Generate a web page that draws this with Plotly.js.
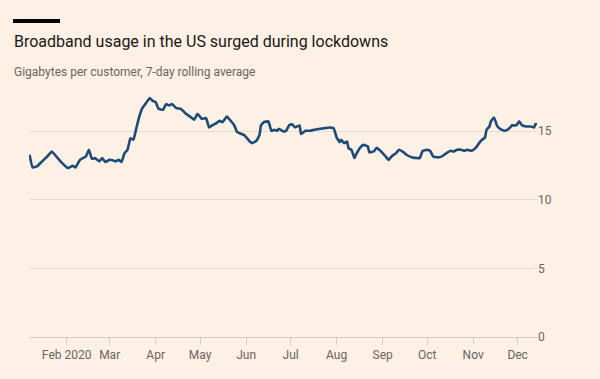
<!DOCTYPE html>
<html>
<head>
<meta charset="utf-8">
<script src="https://cdn.plot.ly/plotly-3.0.1.min.js"></script>
<style>
html,body{margin:0;padding:0;background:#fdf0e5;}
#chart{width:600px;height:379px;}
</style>
</head>
<body>
<div id="chart"></div>
<script>
const dates = [
"2020-01-07","2020-01-09","2020-01-12","2020-01-15","2020-01-19","2020-01-22","2020-01-25","2020-01-29",
"2020-02-02","2020-02-05","2020-02-07","2020-02-10","2020-02-14","2020-02-16","2020-02-18","2020-02-20",
"2020-02-23","2020-02-25","2020-02-27","2020-03-01","2020-03-03","2020-03-05","2020-03-07","2020-03-09",
"2020-03-11","2020-03-13","2020-03-15","2020-03-17","2020-03-19","2020-03-21","2020-03-23","2020-03-25",
"2020-03-28","2020-03-30","2020-04-01","2020-04-03","2020-04-06","2020-04-08","2020-04-10","2020-04-12",
"2020-04-15","2020-04-18","2020-04-21","2020-04-25","2020-04-27","2020-04-29","2020-05-01","2020-05-02",
"2020-05-05","2020-05-07","2020-05-09","2020-05-12","2020-05-14","2020-05-16","2020-05-19","2020-05-21",
"2020-05-24","2020-05-26","2020-05-29","2020-05-31","2020-06-03","2020-06-05","2020-06-08","2020-06-10",
"2020-06-11","2020-06-13","2020-06-16","2020-06-18","2020-06-20","2020-06-22","2020-06-23","2020-06-26",
"2020-06-28","2020-06-30","2020-07-02","2020-07-04","2020-07-07","2020-07-08","2020-07-11","2020-07-14",
"2020-07-17","2020-07-21","2020-07-24","2020-07-27","2020-07-30","2020-08-01","2020-08-03","2020-08-04",
"2020-08-06","2020-08-08","2020-08-09","2020-08-11","2020-08-13","2020-08-14","2020-08-17","2020-08-19",
"2020-08-22","2020-08-23","2020-08-26","2020-08-28","2020-08-31","2020-09-03","2020-09-05","2020-09-07",
"2020-09-10","2020-09-12","2020-09-15","2020-09-17","2020-09-21","2020-09-24","2020-09-26","2020-09-28",
"2020-10-01","2020-10-03","2020-10-05","2020-10-08","2020-10-11","2020-10-14","2020-10-17","2020-10-19",
"2020-10-21","2020-10-24","2020-10-26","2020-10-28","2020-10-31","2020-11-03","2020-11-05","2020-11-07",
"2020-11-09","2020-11-10","2020-11-12","2020-11-13","2020-11-15","2020-11-16","2020-11-17","2020-11-19",
"2020-11-22","2020-11-24","2020-11-26","2020-11-27","2020-11-30","2020-12-02","2020-12-04","2020-12-07",
"2020-12-10","2020-12-12","2020-12-13","2020-12-14"
];
const gigabytes = [
13.28,12.36,12.43,12.75,13.16,13.52,13.16,12.67,
12.31,12.48,12.36,12.91,13.16,13.64,12.99,13.04,
12.80,13.04,12.75,12.91,12.88,12.80,12.91,12.75,
13.40,13.64,14.49,14.37,15.22,16.07,16.68,16.97,
17.41,17.21,17.12,16.63,16.56,16.97,16.87,16.97,
16.68,16.63,16.31,16.00,15.83,16.24,16.05,15.90,
15.95,15.27,15.42,15.59,15.75,15.66,16.07,15.83,
15.42,14.93,14.79,14.69,14.30,14.13,14.30,14.73,
15.42,15.66,15.71,15.03,15.10,15.03,15.17,14.98,
15.03,15.44,15.51,15.27,15.42,14.79,15.03,15.03,
15.10,15.17,15.22,15.27,15.22,14.54,14.20,14.37,
14.13,14.25,13.76,13.64,13.04,13.28,13.82,14.00,
13.89,13.47,13.52,13.79,13.52,13.16,12.91,13.16,
13.40,13.64,13.47,13.28,13.09,13.04,13.04,13.57,
13.64,13.57,13.16,13.09,13.16,13.40,13.57,13.52,
13.64,13.64,13.57,13.64,13.57,13.82,14.13,14.37,
14.54,15.10,15.34,15.71,16.00,15.75,15.42,15.17,
15.03,15.10,15.27,15.42,15.42,15.71,15.42,15.34,
15.34,15.27,15.51,15.51
];
const monthTicks = ["2020-02-01","2020-03-01","2020-04-01","2020-05-01","2020-06-01","2020-07-01","2020-08-01","2020-09-01","2020-10-01","2020-11-01","2020-12-01"];
const monthLabels = ["Feb 2020","Mar","Apr","May","Jun","Jul","Aug","Sep","Oct","Nov","Dec"];
const yTicks = [0,5,10,15];
const titleText = "Broadband usage in the US surged during lockdowns";
const subtitleText = "Gigabytes per customer, 7-day rolling average";

const bg = "#fdf0e5";
const plotW = 508, plotH = 247;
const trace = {
  x: dates, y: gigabytes, type: "scatter", mode: "lines",
  line: {color: "#1d4b78", width: 2.6, shape: "spline", smoothing: 0.3},
  hoverinfo: "skip"
};
const layout = {
  width: 600, height: 379,
  paper_bgcolor: bg, plot_bgcolor: bg,
  margin: {l: 29, r: 63, t: 90, b: 42},
  showlegend: false,
  font: {family: "Roboto, 'Open Sans', sans-serif", color: "#6b6560", size: 12},
  xaxis: {
    type: "date",
    range: ["2020-01-06 15:00", "2020-12-14 01:00"],
    tickvals: monthTicks, ticktext: monthLabels,
    ticks: "outside", ticklen: 7, tickcolor: "#d6ccc2", tickwidth: 1,
    showline: false, showgrid: false, zeroline: false,
    tickfont: {size: 12, color: "#6b6560"}
  },
  yaxis: {
    side: "right", range: [0, 18], tickvals: yTicks,
    showgrid: true, gridcolor: "#e6ddd3", gridwidth: 1,
    zeroline: true, zerolinecolor: "#d6ccc2", zerolinewidth: 1,
    ticks: "", showline: false,
    tickfont: {size: 12, color: "#6b6560"}
  },
  shapes: [
    {type: "line", xref: "paper", yref: "paper", x0: -16/plotW, x1: 31/plotW, y0: 316/plotH, y1: 316/plotH,
     line: {color: "#000000", width: 4}}
  ],
  annotations: [
    {text: titleText, xref: "paper", yref: "paper", x: -17/plotW, y: 295/plotH, xanchor: "left", yanchor: "middle",
     showarrow: false, font: {family: "Roboto, sans-serif", size: 16, color: "#1a1817"}},
    {text: subtitleText, xref: "paper", yref: "paper", x: -17/plotW, y: 265/plotH, xanchor: "left", yanchor: "middle",
     showarrow: false, font: {family: "Roboto, sans-serif", size: 12, color: "#6b6560"}}
  ]
};
Plotly.newPlot("chart", [trace], layout, {staticPlot: true, displayModeBar: false});
</script>
</body>
</html>
